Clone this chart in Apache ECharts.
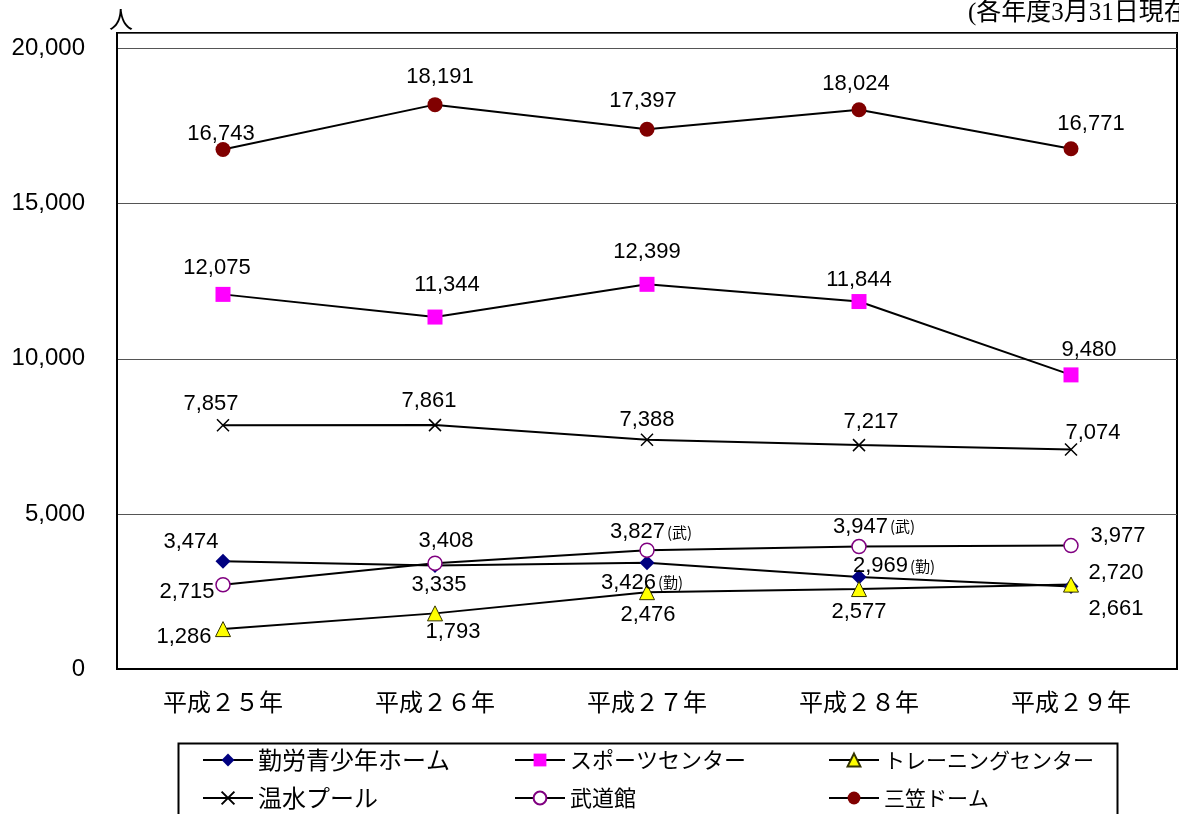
<!DOCTYPE html>
<html><head><meta charset="utf-8">
<script src="https://cdn.jsdelivr.net/npm/echarts@6/dist/echarts.min.js"></script>
<style>html,body{margin:0;padding:0;background:#fff;}#c{width:1179px;height:814px;}</style>
</head><body><div id="c"></div>
<script>
const categories = ['平成２５年','平成２６年','平成２７年','平成２８年','平成２９年'];
const seriesNames = ['勤労青少年ホーム','スポーツセンター','トレーニングセンター','温水プール','武道館','三笠ドーム'];
const kinrou   = [3474, 3335, 3426, 2969, 2661];
const sports   = [12075, 11344, 12399, 11844, 9480];
const training = [1286, 1793, 2476, 2577, 2720];
const onsui    = [7857, 7861, 7388, 7217, 7074];
const budo     = [2715, 3408, 3827, 3947, 3977];
const mikasa   = [16743, 18191, 17397, 18024, 16771];
const kinrouSuffix = ['', '', '(勤)', '(勤)', ''];
const budoSuffix   = ['', '', '(武)', '(武)', ''];
const emptySuffix  = ['', '', '', '', ''];
const yMin = 0, yMax = 20500, yInterval = 5000;

// label offsets (style only)
const offsKinrou   = [[-32,-19],[4,19],[-5,20],[35,-11],[45,22]];
const offsSports   = [[-6,-26],[12,-32],[0,-32],[0,-22],[18,-25]];
const offsTraining = [[-39,8],[18,19],[1,23],[0,23],[45,-12]];
const offsOnsui    = [[-12,-21],[-6,-24],[0,-20],[12,-23],[22,-17]];
const offsBudo     = [[-36,7],[11,-22],[4,-18],[15,-20],[47,-10]];
const offsMikasa   = [[-2,-16],[5,-28],[-4,-28],[-3,-26],[20,-25]];

const fmt = v => v.toLocaleString('en-US');
function buildData(values, offs, suffix) {
  return values.map((v, i) => ({
    value: v,
    label: {
      offset: offs[i],
      formatter: suffix[i] ? '{a|' + fmt(v) + '}{b|' + suffix[i] + '}' : '{a|' + fmt(v) + '}'
    }
  }));
}
const labelBase = {
  show: true, position: 'inside', align: 'center', verticalAlign: 'middle',
  rich: {
    a: {fontFamily: '"Liberation Sans", Arial, sans-serif', fontSize: 22, color: '#000'},
    b: {fontFamily: '"Noto Sans CJK JP", sans-serif', fontSize: 15, color: '#000', padding: [0,0,0,2]}
  }
};
const lineStyle = {color: '#000', width: 2};
function mk(name, values, offs, suffix, symbol, size, itemStyle) {
  return {
    name, type: 'line', data: buildData(values, offs, suffix),
    symbol, symbolSize: size, showAllSymbol: true,
    lineStyle, itemStyle, label: labelBase,
    emphasis: {disabled: true}
  };
}

const chart = echarts.init(document.getElementById('c'));
const legendText = size => ({fontFamily: '"Noto Sans CJK JP", sans-serif', fontSize: size, lineHeight: 24, height: 24, color: '#000'});
const legendBase = {orient: 'vertical', top: 748, itemWidth: 50, itemHeight: 16, itemGap: 14, selectedMode: false, padding: 0};
chart.setOption({
  animation: false,
  backgroundColor: '#fff',
  grid: {left: 117, right: 2, top: 33, bottom: 145, show: true, borderColor: '#000', borderWidth: 2, containLabel: false},
  xAxis: {
    type: 'category', data: categories, boundaryGap: true,
    axisLine: {lineStyle: {color: '#000', width: 2}},
    axisTick: {inside: true, length: 8, lineStyle: {color: '#000', width: 1}},
    axisLabel: {margin: 21, fontFamily: '"Noto Sans CJK JP", sans-serif', fontSize: 24, color: '#000'}
  },
  yAxis: {
    type: 'value', min: yMin, max: yMax, interval: yInterval,
    axisLine: {show: true, lineStyle: {color: '#000', width: 2}},
    axisTick: {show: false},
    splitLine: {lineStyle: {color: '#555', width: 1}},
    axisLabel: {
      margin: 32, fontFamily: '"Liberation Sans", Arial, sans-serif', fontSize: 24, color: '#000',
      formatter: v => (v % yInterval === 0 ? fmt(v) : '')
    }
  },
  legend: [
    Object.assign({}, legendBase, {left: 202, textStyle: legendText(24), data: [seriesNames[0], seriesNames[3]]}),
    Object.assign({}, legendBase, {left: 514, textStyle: legendText(22), data: [seriesNames[1], seriesNames[4]]}),
    Object.assign({}, legendBase, {left: 828, textStyle: legendText(21), data: [seriesNames[2], seriesNames[5]]})
  ],
  graphic: [
    {type: 'rect', left: 176, top: 741, shape: {width: 939, height: 100}, style: {fill: 'none', stroke: '#000', lineWidth: 2}},
    {type: 'text', left: 109, top: 7, style: {text: '人', font: '24px "Noto Sans CJK JP", sans-serif', fill: '#000'}},
    {type: 'text', left: 968, top: 1, style: {text: '(各年度3月31日現在)', font: '25px "Liberation Serif", "Noto Sans CJK JP", serif', fill: '#000'}}
  ],
  series: [
    mk(seriesNames[0], kinrou, offsKinrou, kinrouSuffix, 'diamond', 15, {color: '#000080'}),
    mk(seriesNames[1], sports, offsSports, emptySuffix, 'rect', 15, {color: '#FF00FF'}),
    mk(seriesNames[2], training, offsTraining, emptySuffix, 'triangle', 15, {color: '#FFFF00', borderColor: '#333300', borderWidth: 1}),
    mk(seriesNames[3], onsui, offsOnsui, emptySuffix, 'path://M0,0L10,10M10,0L0,10', 12, {color: 'transparent', borderColor: '#000', borderWidth: 1.5}),
    mk(seriesNames[4], budo, offsBudo, budoSuffix, 'circle', 14, {color: '#fff', borderColor: '#800080', borderWidth: 1.5}),
    mk(seriesNames[5], mikasa, offsMikasa, emptySuffix, 'circle', 15, {color: '#800000'})
  ]
});
</script></body></html>
